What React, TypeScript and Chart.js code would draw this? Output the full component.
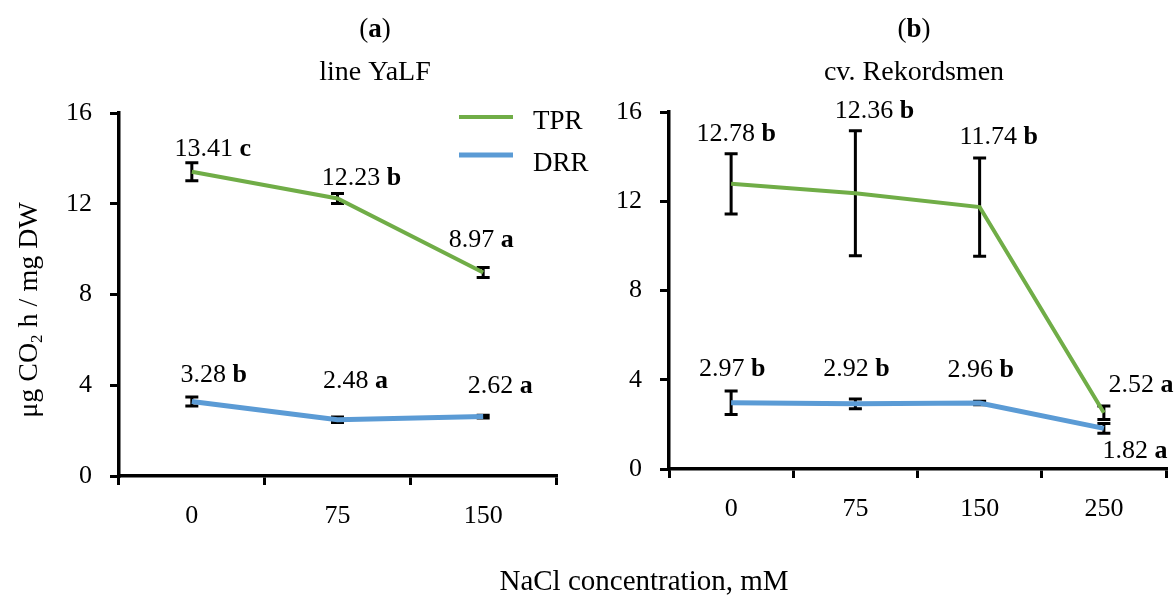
import React, { useEffect, useRef } from "react";
import { Chart, registerables } from "chart.js";

Chart.register(...registerables);

const FONT = "'Liberation Serif', 'Times New Roman', serif";
const GREEN = "#70AD47";
const BLUE = "#5B9BD5";

// ---------- Data ----------
const seriesNames = ["TPR", "DRR"];
const yTickValues = [0, 4, 8, 12, 16];

// Panel (a) line YaLF
const catsA = ["0", "75", "150"];
const tprA = [13.41, 12.23, 8.97];
const tprErrA = [0.4, 0.22, 0.22];
const tprLettersA = ["c", "b", "a"];
const drrA = [3.28, 2.48, 2.62];
const drrErrA = [0.2, 0.12, 0.06];
const drrLettersA = ["b", "a", "a"];

// Panel (b) cv. Rekordsmen
const catsB = ["0", "75", "150", "250"];
const tprB = [12.78, 12.36, 11.74, 2.52];
const tprErrB = [1.35, 2.8, 2.2, 0.3];
const tprLettersB = ["b", "b", "b", "a"];
const drrB = [2.97, 2.92, 2.96, 1.82];
const drrErrB = [0.53, 0.22, 0.08, 0.22];
const drrLettersB = ["b", "b", "b", "a"];

// ---------- Layout (label offsets in px, relative to the point) ----------
const tprOffA = [[21, -24], [24, -22], [-2, -34]];
const drrOffA = [[22, -28], [18, -40], [17, -32]];
const tprOffB = [[5, -51], [19, -84], [19, -72], [37, -29]];
const drrOffB = [[1, -35], [1, -36], [1, -35], [31, 21]];

type Panel = {
  cats: string[];
  values: number[][];
  errs: number[][];
  letters: string[][];
  offs: number[][][];
  area: { left: number; top: number; right: number; bottom: number };
  head: string;
  sub: string;
  headX: number;
  legend: boolean;
  yTitle: boolean;
  xTitle: boolean;
};

const W = 1175;
const H = 595;

const panelA: Panel = {
  cats: catsA,
  values: [tprA, drrA],
  errs: [tprErrA, drrErrA],
  letters: [tprLettersA, drrLettersA],
  offs: [tprOffA, drrOffA],
  area: { left: 119, top: 113, right: 556, bottom: 476 },
  head: "a",
  sub: "line YaLF",
  headX: 375,
  legend: true,
  yTitle: true,
  xTitle: true,
};

const panelB: Panel = {
  cats: catsB,
  values: [tprB, drrB],
  errs: [tprErrB, drrErrB],
  letters: [tprLettersB, drrLettersB],
  offs: [tprOffB, drrOffB],
  area: { left: 669, top: 112, right: 1166, bottom: 469 },
  head: "b",
  sub: "cv. Rekordsmen",
  headX: 914,
  legend: false,
  yTitle: false,
  xTitle: false,
};

const SIZE = 26;
const colors = [GREEN, BLUE];
const widths = [4, 5];

type Part = { t: string; b?: boolean; s?: number; dy?: number };

function drawParts(ctx: CanvasRenderingContext2D, parts: Part[], cx: number, cy: number, size: number) {
  let total = 0;
  const ws: number[] = [];
  for (const p of parts) {
    ctx.font = `${p.b ? "bold " : ""}${p.s ?? size}px ${FONT}`;
    const w = ctx.measureText(p.t).width;
    ws.push(w);
    total += w;
  }
  let x = cx - total / 2;
  ctx.textAlign = "left";
  ctx.textBaseline = "alphabetic";
  ctx.fillStyle = "#000";
  const base = cy + size * 0.33;
  parts.forEach((p, i) => {
    ctx.font = `${p.b ? "bold " : ""}${p.s ?? size}px ${FONT}`;
    ctx.fillText(p.t, x, base + (p.dy ?? 0));
    x += ws[i];
  });
}

function makePlugin(p: Panel) {
  return {
    id: "decor",
    beforeDatasetsDraw(chart: any) {
      const ctx = chart.ctx as CanvasRenderingContext2D;
      const ys = chart.scales.y;
      chart.data.datasets.forEach((ds: any, di: number) => {
        const meta = chart.getDatasetMeta(di);
        meta.data.forEach((pt: any, i: number) => {
          const v = ds.data[i];
          const e = p.errs[di][i];
          const x = pt.x;
          const yt = ys.getPixelForValue(v + e);
          const yb = ys.getPixelForValue(v - e);
          ctx.save();
          ctx.strokeStyle = "#000";
          ctx.lineWidth = 3;
          ctx.beginPath();
          ctx.moveTo(x, yt);
          ctx.lineTo(x, yb);
          ctx.moveTo(x - 6.5, yt);
          ctx.lineTo(x + 6.5, yt);
          ctx.moveTo(x - 6.5, yb);
          ctx.lineTo(x + 6.5, yb);
          ctx.stroke();
          ctx.restore();
        });
      });
    },
    afterDatasetsDraw(chart: any) {
      const ctx = chart.ctx as CanvasRenderingContext2D;
      chart.data.datasets.forEach((ds: any, di: number) => {
        const meta = chart.getDatasetMeta(di);
        meta.data.forEach((pt: any, i: number) => {
          const v = ds.data[i] as number;
          const [dx, dy] = p.offs[di][i];
          ctx.save();
          drawParts(ctx, [{ t: v.toFixed(2) + " " }, { t: p.letters[di][i], b: true }], pt.x + dx, pt.y + dy, SIZE);
          ctx.restore();
        });
      });
    },
    afterDraw(chart: any) {
      const ctx = chart.ctx as CanvasRenderingContext2D;
      ctx.save();
      drawParts(ctx, [{ t: "(" }, { t: p.head, b: true }, { t: ")" }], p.headX, 28, 27);
      drawParts(ctx, [{ t: p.sub }], p.headX, 71, 28);
      if (p.legend) {
        const rows = [117, 155];
        const textY = [122, 164];
        chart.data.datasets.forEach((ds: any, di: number) => {
          ctx.strokeStyle = ds.borderColor;
          ctx.lineWidth = ds.borderWidth;
          ctx.beginPath();
          ctx.moveTo(459, rows[di]);
          ctx.lineTo(513, rows[di]);
          ctx.stroke();
          ctx.font = `27px ${FONT}`;
          ctx.fillStyle = "#000";
          ctx.textAlign = "left";
          ctx.textBaseline = "middle";
          ctx.fillText(ds.label, 533, textY[di]);
        });
      }
      if (p.xTitle) {
        drawParts(ctx, [{ t: "NaCl concentration, mM" }], 644, 580, 29);
      }
      if (p.yTitle) {
        ctx.save();
        ctx.translate(28, 310);
        ctx.rotate(-Math.PI / 2);
        drawParts(
          ctx,
          [{ t: "μg CO" }, { t: "2", s: 17, dy: 5 }, { t: " h / mg DW" }],
          0,
          0,
          28
        );
        ctx.restore();
      }
      ctx.restore();
    },
  };
}

function makeConfig(p: Panel): any {
  const a = p.area;
  return {
    type: "line",
    data: {
      labels: p.cats,
      datasets: p.values.map((vals, i) => ({
        label: seriesNames[i],
        data: vals,
        borderColor: colors[i],
        backgroundColor: colors[i],
        borderWidth: widths[i],
        pointRadius: 0,
        pointHoverRadius: 0,
        tension: 0,
        fill: false,
        borderCapStyle: "butt",
        borderJoinStyle: "miter",
      })),
    },
    options: {
      responsive: false,
      animation: false,
      devicePixelRatio: 1,
      events: [],
      layout: { padding: { left: 0, top: a.top, right: W - a.right, bottom: 0 } },
      plugins: {
        legend: { display: false },
        title: { display: false },
        tooltip: { enabled: false },
      },
      scales: {
        x: {
          type: "category",
          offset: true,
          grid: {
            display: true,
            offset: true,
            drawOnChartArea: false,
            drawTicks: true,
            tickLength: 9,
            color: "#000",
            lineWidth: 3,
          },
          border: { display: true, color: "#000", width: 3.5 },
          ticks: {
            color: "#000",
            font: { family: FONT, size: SIZE },
            padding: 16,
            maxRotation: 0,
          },
          afterFit: (s: any) => {
            s.height = H - a.bottom;
          },
        },
        y: {
          min: 0,
          max: 16,
          afterBuildTicks: (s: any) => {
            s.ticks = yTickValues.map((v) => ({ value: v }));
          },
          grid: {
            display: true,
            drawOnChartArea: false,
            drawTicks: true,
            tickLength: 9,
            color: "#000",
            lineWidth: 3,
          },
          border: { display: true, color: "#000", width: 3.5 },
          ticks: {
            color: "#000",
            font: { family: FONT, size: SIZE },
            padding: 18,
          },
          title: { display: false },
          afterFit: (s: any) => {
            s.width = a.left;
          },
        },
      },
    },
    plugins: [makePlugin(p)],
  };
}

function PanelChart({ panel }: { panel: Panel }) {
  const ref = useRef<HTMLCanvasElement | null>(null);
  useEffect(() => {
    if (!ref.current) return;
    const chart = new Chart(ref.current, makeConfig(panel));
    return () => chart.destroy();
  }, [panel]);
  return (
    <canvas
      ref={ref}
      width={W}
      height={H}
      style={{ position: "absolute", left: 0, top: 0, width: W, height: H }}
    />
  );
}

export default function App() {
  return (
    <div style={{ position: "fixed", left: 0, top: 0, width: W, height: H, background: "#fff" }}>
      <PanelChart panel={panelA} />
      <PanelChart panel={panelB} />
    </div>
  );
}
